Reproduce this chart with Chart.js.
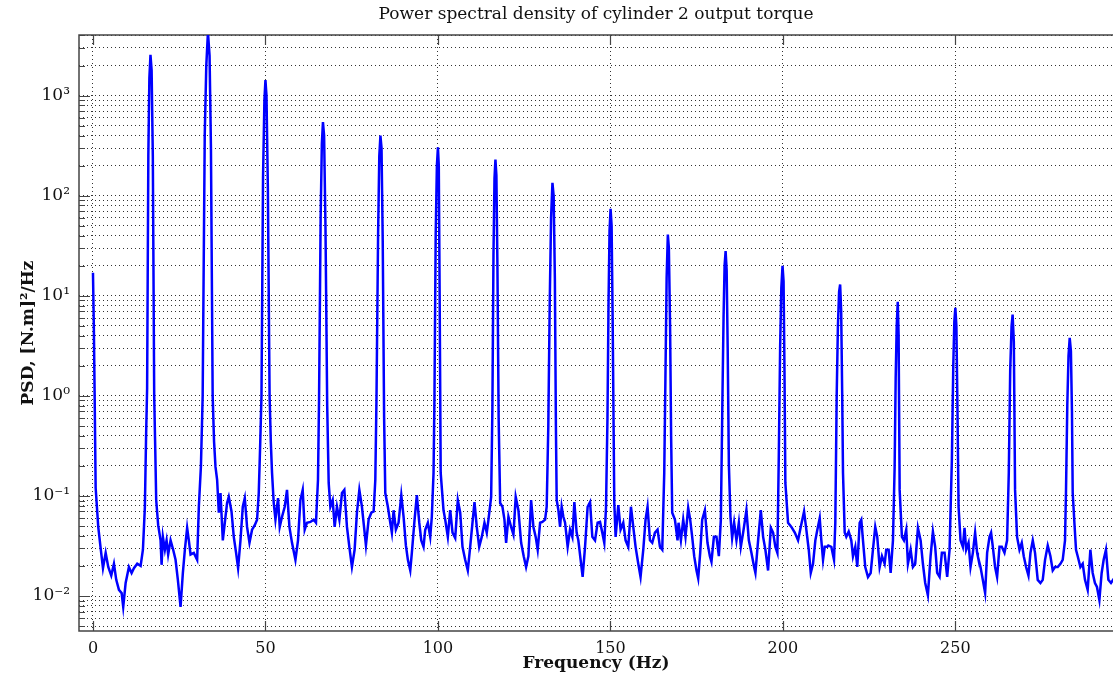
<!DOCTYPE html>
<html>
<head>
<meta charset="utf-8">
<title>PSD cylinder 2 output torque</title>
<script src="https://cdn.jsdelivr.net/npm/chart.js@4/dist/chart.umd.min.js"></script>
<style>
  html, body { margin: 0; padding: 0; background: #fff; }
  #wrap { width: 1113px; height: 682px; }
</style>
</head>
<body>
<div id="wrap"><canvas id="psdChart" width="1113" height="682"></canvas></div>
<script>
// Frequency (Hz) / PSD ([N.m]^2/Hz) pairs
const psdPoints = [
  // 0 - 16.7 Hz
  [0, 17], [0.25, 5], [0.5, 0.9], [0.78, 0.12], [1.53, 0.049], [2.23, 0.03], [2.9, 0.019], [3.68, 0.027],
  [4.43, 0.0195], [5.3, 0.016], [6.08, 0.021], [6.75, 0.0145], [7.53, 0.0115], [8.31, 0.0107], [8.77, 0.0078],
  [9.47, 0.0135], [10.42, 0.0195], [11.2, 0.017], [11.87, 0.019], [12.83, 0.021], [13.81, 0.02], [14.48, 0.029],
  [15.05, 0.078], [15.4, 0.4], [15.7, 1.2], [16.05, 250], [16.35, 1500], [16.67, 2570], [17.0, 1800],
  [17.35, 250], [17.75, 1.0], [18.05, 0.3],
  // 16.7 - 33.3 Hz
  [18.33, 0.091], [18.9, 0.051], [19.6, 0.036], [19.89, 0.0205], [20.27, 0.039], [20.85, 0.029], [21.34, 0.036],
  [21.8, 0.026], [22.5, 0.036], [23.25, 0.029], [23.94, 0.023], [24.61, 0.0145], [25.39, 0.0078], [26.06, 0.017],
  [26.64, 0.029], [27.3, 0.048], [27.79, 0.036], [28.29, 0.026], [29.24, 0.027], [30.2, 0.023], [30.69, 0.078],
  [31.3, 0.2], [31.8, 1.0], [32.4, 400], [32.85, 2000], [33.33, 4300], [33.8, 2500], [34.2, 300], [34.7, 1.0],
  [35.1, 0.35],
  // 33.3 - 50 Hz
  [35.52, 0.195], [35.99, 0.145], [36.48, 0.068], [36.97, 0.107], [37.64, 0.036], [38.42, 0.062], [38.88, 0.085],
  [39.37, 0.098], [40.16, 0.07], [40.82, 0.039], [41.49, 0.027], [42.07, 0.019], [42.76, 0.036], [43.43, 0.078],
  [44.01, 0.095], [44.67, 0.049], [45.37, 0.034], [46.12, 0.046], [46.9, 0.051], [47.57, 0.058], [48.06, 0.107],
  [48.5, 0.35], [48.85, 1.0], [49.3, 150], [49.7, 900], [50.0, 1435], [50.3, 1000], [50.7, 120], [51.2, 1.0],
  [51.55, 0.35],
  // 50 - 66.7 Hz
  [51.91, 0.17], [52.4, 0.085], [52.9, 0.058], [53.65, 0.095], [54.14, 0.049], [54.81, 0.062], [55.59, 0.078],
  [56.25, 0.115], [56.95, 0.049], [57.7, 0.034], [58.69, 0.023], [59.44, 0.036], [60.13, 0.091], [60.8, 0.115],
  [61.38, 0.046], [62.04, 0.054], [63.03, 0.055], [63.98, 0.058], [64.65, 0.054], [65.23, 0.145],
  [65.55, 1.0], [66.0, 60], [66.35, 330], [66.67, 545], [67.0, 400], [67.4, 50], [67.9, 0.8],
  // 66.7 - 83.3 Hz
  [68.33, 0.135], [68.82, 0.078], [69.49, 0.091], [70.06, 0.049], [70.73, 0.078], [71.43, 0.058], [72.18, 0.107],
  [72.87, 0.115], [73.63, 0.049], [74.32, 0.031], [75.07, 0.0195], [75.85, 0.029], [76.52, 0.068], [77.22, 0.115],
  [77.97, 0.078], [78.66, 0.046], [79.13, 0.032], [79.91, 0.058], [80.69, 0.068], [81.36, 0.07], [81.85, 0.145],
  [82.2, 1.0], [82.65, 40], [83.0, 250], [83.33, 400], [83.65, 300], [84.0, 35], [84.4, 0.6],
  // 83.3 - 100 Hz
  [84.74, 0.107], [85.49, 0.078], [86.19, 0.054], [86.65, 0.043], [87.15, 0.072], [87.81, 0.046], [88.59, 0.054],
  [89.38, 0.102], [90.04, 0.062], [90.71, 0.032], [91.29, 0.023], [91.98, 0.018], [92.44, 0.027], [93.23, 0.058],
  [93.89, 0.102], [94.59, 0.054], [95.17, 0.036], [95.83, 0.031], [96.32, 0.046], [97.08, 0.054], [97.77, 0.039],
  [98.23, 0.062], [98.73, 0.17], [99.0, 1.0], [99.35, 40], [99.7, 200], [100.0, 305], [100.25, 200], [100.5, 10],
  [100.8, 0.17],
  // 100 - 116.7 Hz
  [101.62, 0.072], [102.11, 0.058], [102.87, 0.039], [103.56, 0.072], [104.23, 0.043], [105.01, 0.038],
  [105.76, 0.091], [106.46, 0.068], [107.12, 0.031], [107.9, 0.023], [108.66, 0.018], [109.35, 0.031],
  [110.02, 0.054], [110.6, 0.087], [111.26, 0.049], [111.96, 0.031], [112.71, 0.039], [113.49, 0.054],
  [114.16, 0.043], [114.65, 0.058], [115.43, 0.098],
  [115.8, 0.8], [116.1, 25], [116.4, 150], [116.67, 230], [116.95, 160], [117.25, 20], [117.6, 0.6],
  // 116.7 - 133.3 Hz
  [118.04, 0.085], [118.7, 0.078], [119.28, 0.058], [119.77, 0.034], [120.44, 0.062], [121.22, 0.049],
  [121.89, 0.041], [122.55, 0.098], [123.33, 0.072], [124.12, 0.034], [124.87, 0.025], [125.56, 0.0195],
  [126.23, 0.025], [127.01, 0.091], [127.68, 0.049], [128.34, 0.039], [128.92, 0.029], [129.62, 0.054],
  [130.28, 0.055], [131.07, 0.058], [131.53, 0.078],
  [132.0, 0.5], [132.4, 8], [132.8, 60], [133.2, 135], [133.55, 100], [133.9, 15], [134.2, 0.5],
  // 133.3 - 150 Hz
  [134.43, 0.091], [134.92, 0.072], [135.41, 0.049], [135.87, 0.078], [136.36, 0.062], [136.86, 0.054],
  [137.61, 0.031], [138.3, 0.046], [138.97, 0.039], [139.55, 0.087], [140.21, 0.043], [140.71, 0.036],
  [141.37, 0.023], [141.95, 0.0155], [142.65, 0.031], [143.4, 0.078], [144.1, 0.087], [144.76, 0.039],
  [145.54, 0.036], [146.29, 0.054], [146.99, 0.055], [147.65, 0.043], [148.23, 0.034], [148.73, 0.078],
  [149.15, 0.6], [149.45, 8], [149.75, 45], [150.05, 74], [150.35, 50], [150.65, 6], [150.95, 0.4],
  // 150 - 166.7 Hz
  [151.13, 0.085], [151.51, 0.039], [152.29, 0.081], [152.95, 0.046], [153.73, 0.054], [154.4, 0.036],
  [155.18, 0.031], [155.96, 0.078], [156.63, 0.049], [157.3, 0.031], [158.08, 0.021], [158.74, 0.0155],
  [159.53, 0.029], [160.19, 0.058], [160.77, 0.078], [161.47, 0.036], [162.13, 0.034], [162.91, 0.043],
  [163.67, 0.046], [164.36, 0.031], [165.03, 0.029], [165.61, 0.17],
  [165.95, 1.5], [166.3, 15], [166.65, 41], [166.95, 30], [167.3, 5], [167.6, 0.4],
  // 166.7 - 183.3 Hz
  [167.92, 0.068], [168.7, 0.058], [169.46, 0.036], [169.75, 0.054], [170.44, 0.036], [171.11, 0.058],
  [171.77, 0.039], [172.55, 0.076], [173.13, 0.058], [173.71, 0.039], [174.29, 0.025], [174.96, 0.018],
  [175.45, 0.015], [176.03, 0.027], [176.61, 0.058], [177.39, 0.072], [178.14, 0.034], [178.84, 0.025],
  [179.3, 0.022], [180.0, 0.039], [180.75, 0.039], [181.44, 0.025], [182.02, 0.058],
  [182.45, 0.8], [182.8, 6], [183.1, 20], [183.4, 28], [183.7, 18], [184.0, 3],
  // 183.3 - 200 Hz
  [184.34, 0.21], [184.8, 0.062], [185.29, 0.038], [185.87, 0.054], [186.54, 0.036], [187.23, 0.054],
  [187.81, 0.031], [188.48, 0.043], [189.43, 0.072], [190.13, 0.036], [190.88, 0.027], [191.66, 0.0195],
  [192.04, 0.017], [192.82, 0.036], [193.6, 0.072], [194.27, 0.039], [194.93, 0.029], [195.71, 0.018],
  [196.5, 0.048], [197.16, 0.043], [197.83, 0.031], [198.41, 0.027], [198.81, 0.245],
  [199.2, 3], [199.55, 12], [199.9, 20], [200.2, 14], [200.45, 2],
  // 200 - 216.7 Hz
  [200.72, 0.135], [201.5, 0.054], [202.46, 0.049], [203.45, 0.043], [204.4, 0.036], [205.18, 0.049],
  [206.14, 0.07], [206.8, 0.046], [207.5, 0.029], [208.08, 0.017], [208.74, 0.021], [209.41, 0.036],
  [209.99, 0.046], [210.68, 0.06], [211.15, 0.036], [211.64, 0.023], [212.13, 0.031], [212.88, 0.031],
  [213.17, 0.032], [214.04, 0.031], [214.82, 0.023], [215.2, 0.054],
  [215.6, 1.0], [215.95, 5], [216.3, 11], [216.6, 13], [216.9, 7], [217.2, 1.0],
  // 216.7 - 233.3 Hz
  [217.43, 0.17], [217.92, 0.043], [218.38, 0.039], [219.08, 0.044], [219.83, 0.036], [220.32, 0.025],
  [220.99, 0.031], [221.57, 0.0195], [222.26, 0.054], [222.73, 0.058], [223.22, 0.036], [223.88, 0.0195],
  [224.67, 0.0155], [225.45, 0.017], [226.11, 0.029], [226.78, 0.049], [227.36, 0.039], [228.05, 0.0195],
  [228.72, 0.025], [229.5, 0.021], [229.96, 0.029], [230.66, 0.029], [231.24, 0.017], [231.91, 0.036],
  [232.4, 0.195], [232.7, 1.5], [233.0, 5], [233.3, 8.7], [233.55, 4],
  // 233.3 - 250 Hz
  [233.85, 0.115], [234.51, 0.039], [235.09, 0.036], [235.76, 0.046], [236.25, 0.021], [237.03, 0.029],
  [237.7, 0.0195], [238.36, 0.021], [239.15, 0.048], [239.93, 0.036], [240.59, 0.021], [241.26, 0.0135],
  [242.04, 0.0102], [242.82, 0.025], [243.49, 0.044], [244.15, 0.031], [244.73, 0.017], [245.43, 0.0155],
  [246.09, 0.027], [246.87, 0.027], [247.63, 0.0155], [248.32, 0.029], [248.99, 0.23],
  [249.4, 2], [249.7, 5.5], [250.0, 7.6], [250.3, 5], [250.6, 0.8],
  // 250 - 266.7 Hz
  [250.93, 0.078], [251.5, 0.036], [252.17, 0.031], [252.66, 0.048], [253.13, 0.029], [253.82, 0.034],
  [254.4, 0.0195], [255.07, 0.027], [255.73, 0.043], [256.31, 0.027], [256.51, 0.025], [257.29, 0.0195],
  [257.96, 0.0145], [258.63, 0.0107], [259.21, 0.027], [259.9, 0.039], [260.36, 0.043], [260.86, 0.031],
  [261.52, 0.0195], [262.1, 0.0155], [262.8, 0.031], [263.46, 0.031], [264.24, 0.027], [265.0, 0.036],
  [265.49, 0.17], [265.9, 1.8], [266.3, 5], [266.6, 6.5], [266.95, 3.5],
  // 266.7 - 283.3 Hz
  [267.31, 0.115], [267.89, 0.039], [268.59, 0.029], [269.25, 0.034], [269.83, 0.025], [270.5, 0.0195],
  [271.19, 0.016], [271.77, 0.027], [272.44, 0.036], [273.1, 0.027], [273.88, 0.0145], [274.67, 0.0135],
  [275.33, 0.0145], [276.0, 0.023], [276.78, 0.032], [277.56, 0.025], [278.23, 0.018], [278.9, 0.0195],
  [279.68, 0.0195], [280.46, 0.021], [281.12, 0.023], [281.79, 0.036], [282.08, 0.115],
  [282.45, 0.8], [282.8, 2.5], [283.15, 3.8], [283.5, 2.8], [283.8, 0.7],
  // 283.3 Hz - end
  [284.02, 0.107], [284.51, 0.054], [284.98, 0.029], [285.47, 0.025], [286.25, 0.0195], [286.92, 0.021],
  [287.58, 0.0145], [288.36, 0.0115], [289.14, 0.029], [289.81, 0.017], [290.47, 0.0135], [291.05, 0.0123],
  [291.75, 0.0091], [292.41, 0.017], [292.99, 0.023], [293.66, 0.029], [294.36, 0.0145], [295.11, 0.0135],
  [296, 0.015]
];

const xTickValues = [0, 50, 100, 150, 200, 250];
const yDecades = [-2, -1, 0, 1, 2, 3];
const yDecadeLabels = ['10\u207B\u00B2', '10\u207B\u00B9', '10\u2070', '10\u00B9', '10\u00B2', '10\u00B3'];
const xRange = [-4.05, 295.7];
const yRange = [0.00447, 4046];

const chartTitle = 'Power spectral density of cylinder 2 output torque';
const xTitle = 'Frequency (Hz)';
const yTitle = 'PSD, [N.m]\u00B2/Hz';

const serif = '"DejaVu Serif", "Liberation Serif", serif';

// all 1..9 x 10^k gridlines inside the y range
const yGridValues = [];
for (let k = -3; k <= 3; k++) {
  for (let m = 1; m <= 9; m++) {
    const v = m * Math.pow(10, k);
    if (v >= yRange[0] && v <= yRange[1]) yGridValues.push(v);
  }
}

// frame + inward ticks, MATLAB style
const framePlugin = {
  id: 'frame',
  beforeDatasetsDraw(chart) {
    const { ctx, chartArea: a, scales } = chart;
    ctx.save();
    ctx.strokeStyle = '#444';
    ctx.lineWidth = 1.5;
    ctx.beginPath();
    ctx.moveTo(a.right + 2, a.top);
    ctx.lineTo(a.left, a.top);
    ctx.lineTo(a.left, a.bottom);
    ctx.lineTo(a.right + 2, a.bottom);
    ctx.stroke();

    ctx.lineWidth = 1.2;
    ctx.beginPath();
    xTickValues.forEach(v => {
      const px = Math.round(scales.x.getPixelForValue(v)) + 0.5;
      ctx.moveTo(px, a.bottom); ctx.lineTo(px, a.bottom - 10);
      ctx.moveTo(px, a.top); ctx.lineTo(px, a.top + 10);
    });
    yGridValues.forEach(v => {
      const py = Math.round(scales.y.getPixelForValue(v)) + 0.5;
      const decade = Math.abs(Math.log10(v) - Math.round(Math.log10(v))) < 1e-9;
      ctx.moveTo(a.left, py); ctx.lineTo(a.left + (decade ? 11 : 6), py);
    });
    ctx.stroke();
    ctx.restore();
  }
};

new Chart(document.getElementById('psdChart'), {
  type: 'line',
  data: {
    datasets: [{
      label: 'PSD',
      data: psdPoints.map(p => ({ x: p[0], y: p[1] })),
      borderColor: '#0000ff',
      borderWidth: 2.5,
      pointRadius: 0,
      tension: 0,
      fill: false
    }]
  },
  options: {
    responsive: false,
    animation: false,
    events: [],
    layout: { padding: 0 },
    plugins: {
      legend: { display: false },
      tooltip: { enabled: false },
      title: {
        display: true,
        fullSize: false,
        text: chartTitle,
        color: '#111',
        font: { family: serif, size: 17, weight: 'normal', lineHeight: 1.2 },
        padding: { top: 4, bottom: 10.6 }
      }
    },
    scales: {
      x: {
        type: 'linear',
        min: xRange[0],
        max: xRange[1],
        afterBuildTicks: s => { s.ticks = xTickValues.map(v => ({ value: v })); },
        afterFit: s => { s.height = 51; },
        ticks: {
          color: '#111',
          padding: 8,
          autoSkip: false,
          maxRotation: 0,
          font: { family: serif, size: 16 },
          callback: v => String(v)
        },
        grid: { color: 'rgba(0,0,0,0.8)', lineWidth: 1, drawTicks: false },
        border: { display: false, dash: [1, 3] },
        title: {
          display: true,
          text: xTitle,
          color: '#111',
          font: { family: serif, size: 17, weight: 'bold', lineHeight: 1.2 },
          padding: { top: 0, bottom: 8 }
        }
      },
      y: {
        type: 'logarithmic',
        min: yRange[0],
        max: yRange[1],
        afterBuildTicks: s => { s.ticks = yGridValues.map(v => ({ value: v })); },
        afterFit: s => { s.width = 79; },
        ticks: {
          color: '#111',
          padding: 9,
          autoSkip: false,
          font: { family: serif, size: 17 },
          callback: v => {
            const k = Math.log10(v);
            const i = yDecades.indexOf(Math.round(k));
            return (Math.abs(k - Math.round(k)) < 1e-9 && i >= 0) ? yDecadeLabels[i] : '';
          }
        },
        grid: { color: 'rgba(0,0,0,0.8)', lineWidth: 1, drawTicks: false },
        border: { display: false, dash: [1, 3] },
        title: {
          display: true,
          text: yTitle,
          color: '#111',
          font: { family: serif, size: 17, weight: 'bold', lineHeight: 1.2 },
          padding: { top: 18, bottom: 0 }
        }
      }
    }
  },
  plugins: [framePlugin]
});
</script>
</body>
</html>
